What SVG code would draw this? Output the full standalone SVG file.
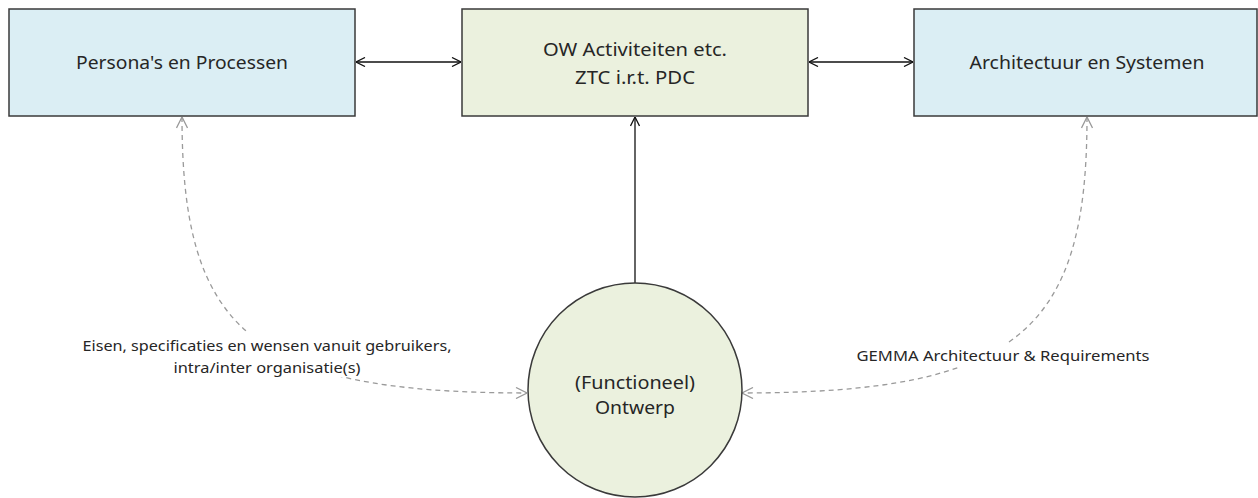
<svg xmlns="http://www.w3.org/2000/svg" width="1258" height="498" viewBox="0 0 1258 498">
<style>
.box{stroke:#3a3a3a;stroke-width:1.5}
.blue{fill:#dbeef4}
.green{fill:#ebf1de}
.t{font-family:"Noto Sans","Open Sans","Liberation Sans",sans-serif;fill:#262626;text-anchor:middle;dominant-baseline:central}
.big{font-size:18px}
.small{font-size:15px}
.solid{stroke:#111;stroke-width:1.3;fill:none}
.dash{stroke:#9a9a9a;stroke-width:1.3;fill:none;stroke-dasharray:5 4}
</style>
<defs>
<marker id="ab" viewBox="0 0 10 10" refX="10" refY="5" markerWidth="10" markerHeight="10" markerUnits="userSpaceOnUse" orient="auto-start-reverse">
<path d="M1,0.5 L10,5 L1,9.5" fill="none" stroke="#111" stroke-width="1.3"/>
</marker>
<marker id="ag" viewBox="0 0 12 12" refX="12" refY="6" markerWidth="12" markerHeight="12" markerUnits="userSpaceOnUse" orient="auto-start-reverse">
<path d="M1,0.5 L12,6 L1,11.5" fill="none" stroke="#9a9a9a" stroke-width="1.3"/>
</marker>
</defs>
<rect width="1258" height="498" fill="#fff"/>
<g id="connectors">
<line class="solid" x1="356" y1="62" x2="461" y2="62" marker-start="url(#ab)" marker-end="url(#ab)"/>
<line class="solid" x1="809" y1="62" x2="913" y2="62" marker-start="url(#ab)" marker-end="url(#ab)"/>
<line class="solid" x1="635" y1="283" x2="635" y2="117" marker-end="url(#ab)"/>
<path class="dash" d="M182,117 C182,330 250,393 527,393" marker-start="url(#ag)" marker-end="url(#ag)"/>
<path class="dash" d="M1087,117 C1087,330 1019,393 742,393" marker-start="url(#ag)" marker-end="url(#ag)"/>
</g>
<g id="label-eisen">
<rect x="80" y="333" width="375" height="44" fill="#fff"/>
<text class="t small" x="267" y="345" textLength="369" lengthAdjust="spacingAndGlyphs">Eisen, specificaties en wensen vanuit gebruikers,</text>
<text class="t small" x="267" y="367" textLength="187" lengthAdjust="spacingAndGlyphs">intra/inter organisatie(s)</text>
</g>
<g id="label-gemma">
<rect x="854" y="343" width="300" height="24" fill="#fff"/>
<text class="t small" x="1003" y="355" textLength="293" lengthAdjust="spacingAndGlyphs">GEMMA Architectuur &amp; Requirements</text>
</g>
<g id="node-persona">
<rect class="box blue" x="9" y="9" width="346" height="107"/>
<text class="t big" x="182" y="62" textLength="212" lengthAdjust="spacingAndGlyphs">Persona's en Processen</text>
</g>
<g id="node-ow">
<rect class="box green" x="462" y="9" width="346" height="107"/>
<text class="t big" x="635" y="49" textLength="184" lengthAdjust="spacingAndGlyphs">OW Activiteiten etc.</text>
<text class="t big" x="635" y="77" textLength="120" lengthAdjust="spacingAndGlyphs">ZTC i.r.t. PDC</text>
</g>
<g id="node-architectuur">
<rect class="box blue" x="914" y="9" width="343" height="107"/>
<text class="t big" x="1087" y="62" textLength="235" lengthAdjust="spacingAndGlyphs">Architectuur en Systemen</text>
</g>
<g id="node-ontwerp">
<circle class="box green" cx="635" cy="390" r="107"/>
<text class="t big" x="635" y="382" textLength="120" lengthAdjust="spacingAndGlyphs">(Functioneel)</text>
<text class="t big" x="635" y="407" textLength="80" lengthAdjust="spacingAndGlyphs">Ontwerp</text>
</g>
</svg>
